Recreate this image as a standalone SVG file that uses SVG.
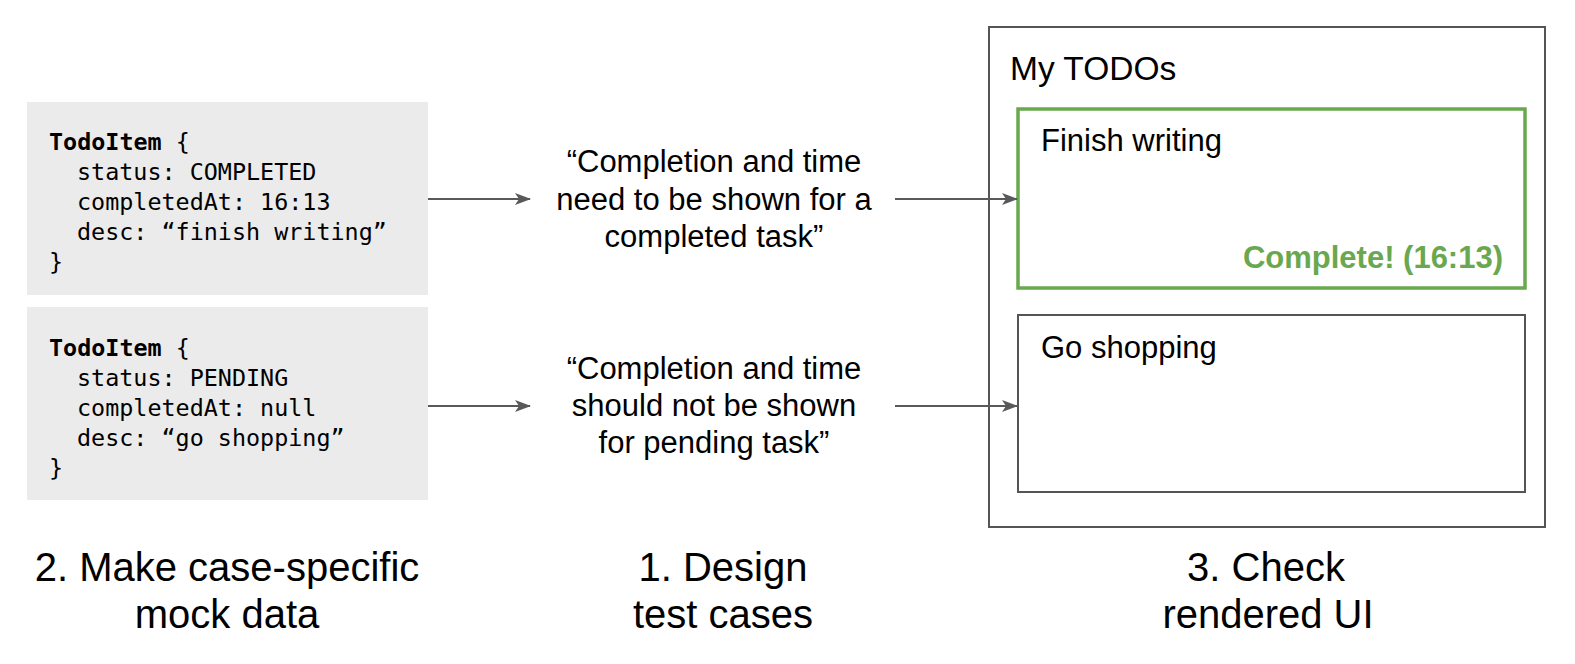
<svg xmlns="http://www.w3.org/2000/svg" width="1575" height="664" viewBox="0 0 1575 664">
<style>
.code{font-family:"DejaVu Sans Mono","Liberation Mono",monospace;font-size:23.4px;fill:#000}
.b{font-weight:bold}
.t{font-family:"Liberation Sans",Arial,sans-serif;font-size:31px;fill:#000}
.m{text-anchor:middle}
.lbl{font-family:"Liberation Sans",Arial,sans-serif;font-size:40px;fill:#000;text-anchor:middle}
.gray{fill:#ebebeb}
.frame{fill:#fff;stroke:#555;stroke-width:2}
.green{fill:#fff;stroke:#6aa84f;stroke-width:3.5}
.conn{stroke:#595959;stroke-width:2;fill:none;marker-end:url(#ah)}
</style>
<defs>
<marker id="ah" viewBox="0 0 16 12" refX="15" refY="6" markerWidth="16" markerHeight="12" markerUnits="userSpaceOnUse" orient="auto">
<path d="M0,0 L16,6 L0,12 L4,6 Z" fill="#595959"/>
</marker>
</defs>
<rect width="1575" height="664" fill="#fff"/>
<g id="mock1">
<rect class="gray" x="27" y="102" width="401" height="193"/>
<text class="code" x="49" y="150"><tspan class="b">TodoItem</tspan> {</text>
<text class="code" x="77" y="180">status: COMPLETED</text>
<text class="code" x="77" y="210">completedAt: 16:13</text>
<text class="code" x="77" y="240">desc: “finish writing”</text>
<text class="code" x="49" y="270">}</text>
</g>
<g id="mock2">
<rect class="gray" x="27" y="307" width="401" height="193"/>
<text class="code" x="49" y="356"><tspan class="b">TodoItem</tspan> {</text>
<text class="code" x="77" y="386">status: PENDING</text>
<text class="code" x="77" y="416">completedAt: null</text>
<text class="code" x="77" y="446">desc: “go shopping”</text>
<text class="code" x="49" y="476">}</text>
</g>
<g id="case1">
<text class="t m" x="714" y="172">“Completion and time</text>
<text class="t m" x="714" y="210">need to be shown for a</text>
<text class="t m" x="714" y="247">completed task”</text>
</g>
<g id="case2">
<text class="t m" x="714" y="379">“Completion and time</text>
<text class="t m" x="714" y="416">should not be shown</text>
<text class="t m" x="714" y="453">for pending task”</text>
</g>
<g id="ui">
<rect class="frame" x="989" y="27" width="556" height="500"/>
<text class="t" x="1010" y="80" style="font-size:33.5px">My TODOs</text>
</g>
<g id="item1">
<rect class="green" x="1018" y="109" width="507" height="179"/>
<text class="t" x="1041" y="151">Finish writing</text>
<text class="t b" x="1503" y="268" style="text-anchor:end;fill:#6aa84f">Complete! (16:13)</text>
</g>
<g id="item2">
<rect class="frame" x="1018" y="315" width="507" height="177"/>
<text class="t" x="1041" y="358">Go shopping</text>
</g>
<g id="connectors">
<line class="conn" x1="428" y1="199" x2="530" y2="199"/>
<line class="conn" x1="428" y1="406" x2="530" y2="406"/>
<line class="conn" x1="895" y1="199" x2="1017" y2="199"/>
<line class="conn" x1="895" y1="406" x2="1017" y2="406"/>
</g>
<g id="labels">
<text class="lbl" x="227" y="581">2. Make case-specific</text>
<text class="lbl" x="227" y="628">mock data</text>
<text class="lbl" x="723" y="581">1. Design</text>
<text class="lbl" x="723" y="628">test cases</text>
<text class="lbl" x="1266" y="581">3. Check</text>
<text class="lbl" x="1268" y="628">rendered UI</text>
</g>
</svg>
